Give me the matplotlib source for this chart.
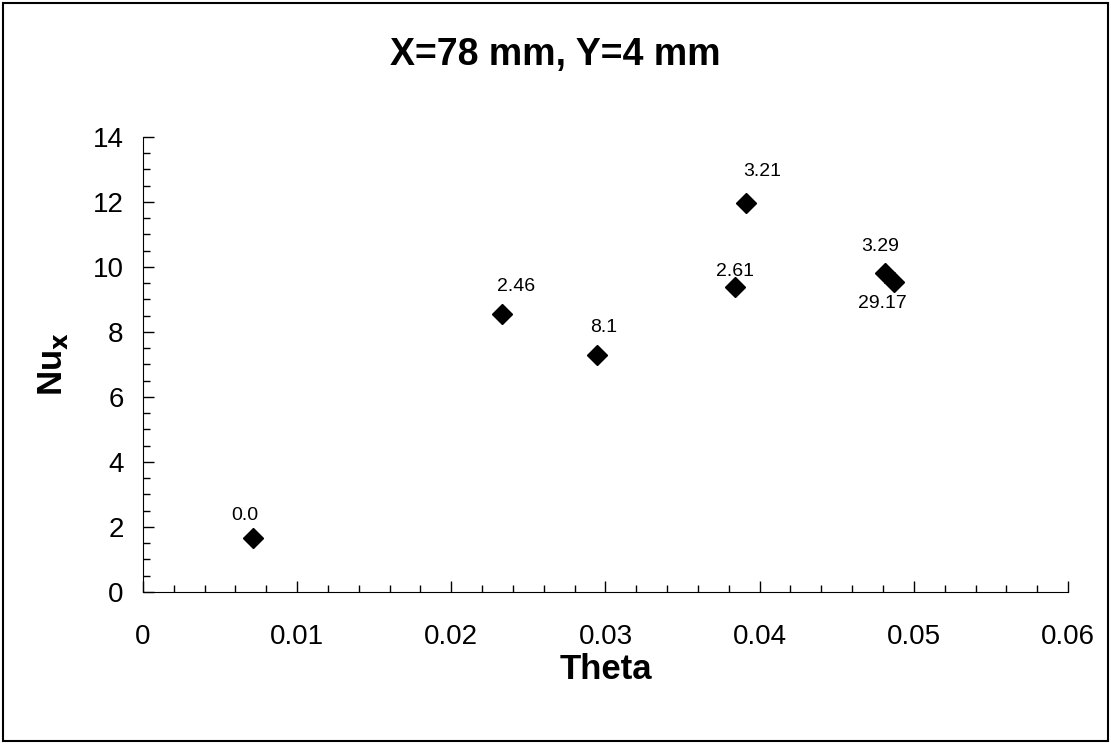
import numpy as np
import matplotlib.pyplot as plt
from matplotlib.patches import Rectangle
from matplotlib.ticker import MultipleLocator

plt.rcParams['font.family'] = ['Liberation Sans', 'DejaVu Sans']

# data
theta = [0.00716, 0.02331, 0.02943, 0.0384, 0.0391, 0.0481, 0.0487]
nu = [1.65, 8.55, 7.29, 9.39, 11.98, 9.80, 9.55]
labels = ["0.0", "2.46", "8.1", "2.61", "3.21", "3.29", "29.17"]
# label offsets in points
offsets = [(-6, 10), (10, 14), (5, 14), (0, 5), (12, 16), (-3, 13), (-8, -10)]
valign = ["bottom", "bottom", "bottom", "bottom", "bottom", "bottom", "top"]

fig = plt.figure(figsize=(11.11, 7.44), dpi=100)
ax = fig.add_axes([0.1287, 0.2043, 0.9613 - 0.1287, 0.8159 - 0.2043])

ax.plot(theta, nu, 'D', color='black', markersize=10, linestyle='none')
for x, y, t, o, va in zip(theta, nu, labels, offsets, valign):
    ax.annotate(t, (x, y), xytext=o, textcoords='offset points',
                ha='center', va=va, fontsize=14)

ax.set_xlim(0, 0.06)
ax.set_ylim(0, 14)
ax.xaxis.set_major_locator(MultipleLocator(0.01))
ax.xaxis.set_minor_locator(MultipleLocator(0.002))
ax.yaxis.set_major_locator(MultipleLocator(2))
ax.yaxis.set_minor_locator(MultipleLocator(0.5))
ax.set_xticks(np.arange(0, 0.061, 0.01))
ax.set_xticklabels(["0", "0.01", "0.02", "0.03", "0.04", "0.05", "0.06"])
ax.tick_params(which='both', direction='in', labelsize=20, width=1)
ax.tick_params(which='major', length=8)
ax.tick_params(which='minor', length=5)
ax.tick_params(axis='x', which='major', pad=23)
ax.tick_params(axis='y', which='major', pad=14)
ax.spines['top'].set_visible(False)
ax.spines['right'].set_visible(False)

fig.text(0.5, 1 - 55 / 744, "X=78 mm, Y=4 mm", fontsize=27, fontweight='bold',
         ha='center', va='center')
ax.set_xlabel("Theta", fontsize=25, fontweight='bold', labelpad=2)
ax.set_ylabel(r"Nu$_\mathbf{x}$", fontsize=25, fontweight='bold', labelpad=16)

fig.patches.append(Rectangle((0.003, 0.004), 0.994, 0.992, transform=fig.transFigure,
                             fill=False, edgecolor='black', linewidth=1.5))

plt.savefig("out.png", dpi=100)
